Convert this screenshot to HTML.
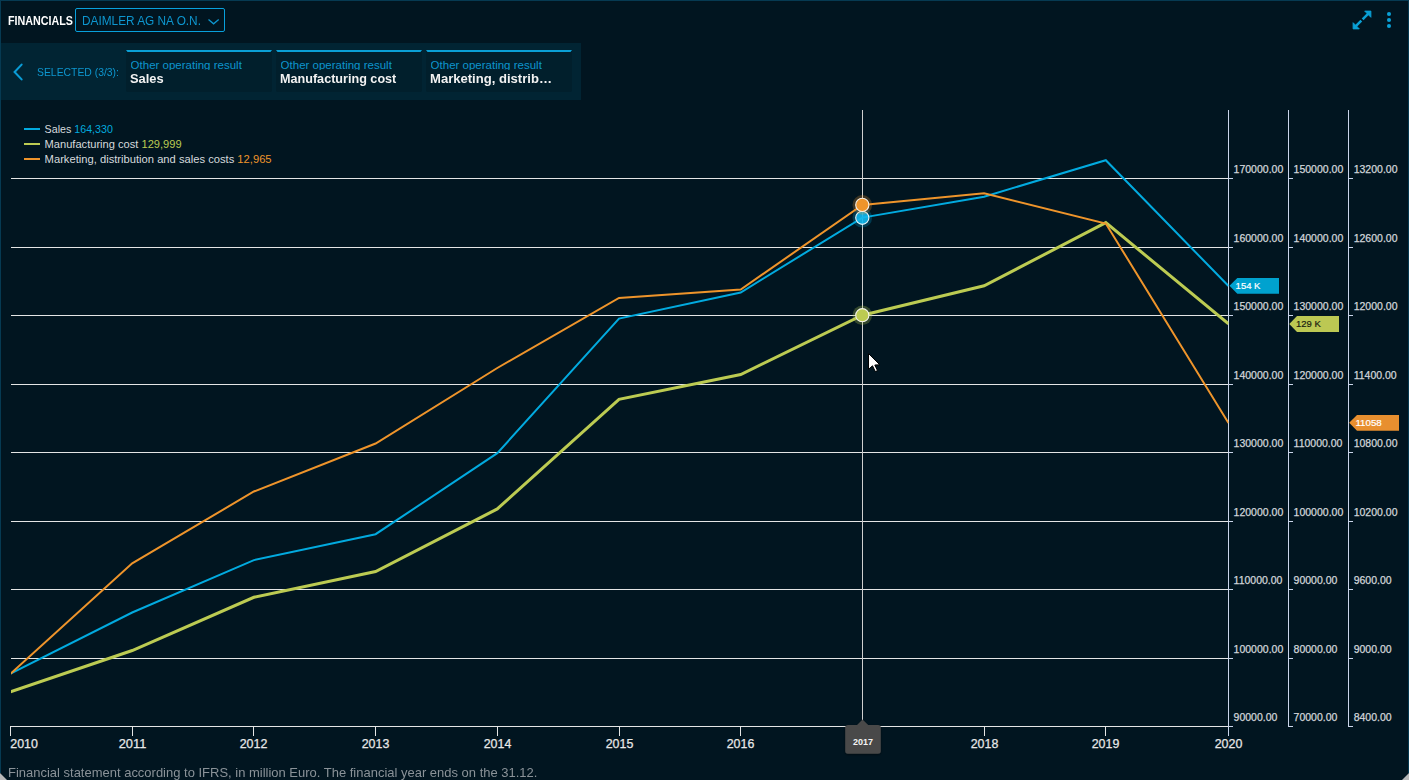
<!DOCTYPE html>
<html>
<head>
<meta charset="utf-8">
<style>
html,body{margin:0;padding:0;}
body{width:1409px;height:780px;overflow:hidden;background:#011520;font-family:"Liberation Sans",sans-serif;position:relative;}
.abs{position:absolute;}
.bt{left:0;top:0;width:1409px;height:1px;background:#063a52;}
.bl{left:0;top:0;width:1px;height:773px;background:#063a52;}
.br{left:1408px;top:0;width:1px;height:773px;background:#063a52;}
.t{position:absolute;white-space:nowrap;transform-origin:0 0;line-height:1;}
#band{left:1px;top:43px;width:580px;height:57px;background:#012433;}
.card{position:absolute;top:50px;width:146px;height:42px;background:#011f2c;border-radius:0 0 2px 2px;}
.card .ln{position:absolute;left:0;top:0;width:146px;height:2px;background:#0aa0d6;clip-path:polygon(0 0,100% 0,calc(100% - 1.5px) 100%,1.5px 100%);}
.card .a{left:4.6px;top:10px;font-size:11.5px;color:#0d95cc;height:10.2px;overflow:hidden;}
.card .b{left:4.3px;top:22.1px;font-size:13px;font-weight:700;color:#f2f2f2;}
</style>
</head>
<body>
<div class="abs bt"></div>
<div class="abs bl"></div>
<div class="abs br"></div>

<!-- title -->
<div class="t" style="left:7.6px;top:14.1px;font-size:13px;font-weight:700;color:#ffffff;transform:scaleX(0.826);">FINANCIALS</div>
<div class="abs" style="left:75px;top:8px;width:148px;height:22px;border:1px solid #08a0dc;border-radius:2px;"></div>
<div class="t" style="left:81.8px;top:15px;font-size:12.5px;color:#0d96cf;transform:scaleX(0.946);">DAIMLER AG NA O.N.</div>
<svg class="abs" style="left:205px;top:15px" width="18" height="12"><path d="M3.5 4.5 L8.6 8.8 L13.7 4.5" fill="none" stroke="#0d96cf" stroke-width="1.3"/></svg>

<!-- top right icons -->
<svg class="abs" style="left:1348px;top:6px" width="50" height="28" viewBox="1348 6 50 28">
  <g fill="#0aa0d6" stroke="#0aa0d6" stroke-width="0.9" stroke-linejoin="round">
    <path d="M1364.7 11.1 L1370.9 11.1 L1370.9 17.3 Z"/>
    <path d="M1353.1 22.7 L1353.1 28.9 L1359.3 28.9 Z"/>
  </g>
  <g stroke="#0aa0d6" stroke-width="2.5" stroke-linecap="butt">
    <line x1="1368.3" y1="13.7" x2="1362.6" y2="19.4"/>
    <line x1="1361.3" y1="20.7" x2="1355.6" y2="26.4"/>
  </g>
  <g fill="#0aa0d6">
    <circle cx="1389" cy="14" r="2.05"/>
    <circle cx="1389" cy="20" r="2.05"/>
    <circle cx="1389" cy="26" r="2.05"/>
  </g>
</svg>

<!-- selected band -->
<div class="abs" id="band"></div>
<svg class="abs" style="left:8px;top:58px" width="22" height="28"><path d="M13.6 6.6 L6.6 14 L13.6 21.4" fill="none" stroke="#0a9cd6" stroke-width="2.1" stroke-linecap="round"/></svg>
<div class="t" style="left:36.5px;top:66.7px;font-size:11px;color:#0d96cf;transform:scaleX(0.944);">SELECTED (3/3):</div>

<div class="card" style="left:126px"><div class="ln"></div>
  <div class="t a">Other operating result</div>
  <div class="t b" style="transform:scaleX(0.99)">Sales</div></div>
<div class="card" style="left:276px"><div class="ln"></div>
  <div class="t a">Other operating result</div>
  <div class="t b" style="transform:scaleX(0.97)">Manufacturing cost</div></div>
<div class="card" style="left:426px"><div class="ln"></div>
  <div class="t a">Other operating result</div>
  <div class="t b" style="transform:scaleX(1.005)">Marketing, distrib…</div></div>

<!-- CHART -->
<svg class="abs" style="left:0;top:0" width="1409" height="780" id="chart">
<defs><clipPath id="pc"><rect x="11" y="100" width="1217.5" height="640"/></clipPath></defs>
<rect x="11" y="178" width="1217" height="1" fill="#e4e5e5"/>
<rect x="11" y="247" width="1217" height="1" fill="#e4e5e5"/>
<rect x="11" y="315" width="1217" height="1" fill="#e4e5e5"/>
<rect x="11" y="384" width="1217" height="1" fill="#e4e5e5"/>
<rect x="11" y="452" width="1217" height="1" fill="#e4e5e5"/>
<rect x="11" y="521" width="1217" height="1" fill="#e4e5e5"/>
<rect x="11" y="589" width="1217" height="1" fill="#e4e5e5"/>
<rect x="11" y="658" width="1217" height="1" fill="#e4e5e5"/>
<rect x="10" y="726" width="1218" height="1" fill="#e4e5e5"/>
<rect x="10" y="726" width="1" height="10" fill="#e4e5e5"/>
<rect x="132" y="726" width="1" height="10" fill="#e4e5e5"/>
<rect x="253" y="726" width="1" height="10" fill="#e4e5e5"/>
<rect x="375" y="726" width="1" height="10" fill="#e4e5e5"/>
<rect x="497" y="726" width="1" height="10" fill="#e4e5e5"/>
<rect x="619" y="726" width="1" height="10" fill="#e4e5e5"/>
<rect x="740" y="726" width="1" height="10" fill="#e4e5e5"/>
<rect x="862" y="726" width="1" height="10" fill="#e4e5e5"/>
<rect x="984" y="726" width="1" height="10" fill="#e4e5e5"/>
<rect x="1105" y="726" width="1" height="10" fill="#e4e5e5"/>
<rect x="1228" y="110" width="1" height="626" fill="#cad5ea"/>
<rect x="1288" y="110" width="1" height="617" fill="#cad5ea"/>
<rect x="1348" y="110" width="1" height="617" fill="#cad5ea"/>
<rect x="1229" y="178" width="4" height="1" fill="#cad5ea"/>
<rect x="1289" y="178" width="4" height="1" fill="#cad5ea"/>
<rect x="1349" y="178" width="4" height="1" fill="#cad5ea"/>
<rect x="1229" y="247" width="4" height="1" fill="#cad5ea"/>
<rect x="1289" y="247" width="4" height="1" fill="#cad5ea"/>
<rect x="1349" y="247" width="4" height="1" fill="#cad5ea"/>
<rect x="1229" y="315" width="4" height="1" fill="#cad5ea"/>
<rect x="1289" y="315" width="4" height="1" fill="#cad5ea"/>
<rect x="1349" y="315" width="4" height="1" fill="#cad5ea"/>
<rect x="1229" y="384" width="4" height="1" fill="#cad5ea"/>
<rect x="1289" y="384" width="4" height="1" fill="#cad5ea"/>
<rect x="1349" y="384" width="4" height="1" fill="#cad5ea"/>
<rect x="1229" y="452" width="4" height="1" fill="#cad5ea"/>
<rect x="1289" y="452" width="4" height="1" fill="#cad5ea"/>
<rect x="1349" y="452" width="4" height="1" fill="#cad5ea"/>
<rect x="1229" y="521" width="4" height="1" fill="#cad5ea"/>
<rect x="1289" y="521" width="4" height="1" fill="#cad5ea"/>
<rect x="1349" y="521" width="4" height="1" fill="#cad5ea"/>
<rect x="1229" y="589" width="4" height="1" fill="#cad5ea"/>
<rect x="1289" y="589" width="4" height="1" fill="#cad5ea"/>
<rect x="1349" y="589" width="4" height="1" fill="#cad5ea"/>
<rect x="1229" y="658" width="4" height="1" fill="#cad5ea"/>
<rect x="1289" y="658" width="4" height="1" fill="#cad5ea"/>
<rect x="1349" y="658" width="4" height="1" fill="#cad5ea"/>
<rect x="1229" y="726" width="4" height="1" fill="#cad5ea"/>
<rect x="1289" y="726" width="4" height="1" fill="#cad5ea"/>
<rect x="1349" y="726" width="4" height="1" fill="#cad5ea"/>
<g font-family="Liberation Sans" font-size="10.5" fill="#d2d6da" stroke="#d2d6da" stroke-width="0.25">
<text x="1233.6" y="173">170000.00</text>
<text x="1293.6" y="173">150000.00</text>
<text x="1353.7" y="173">13200.00</text>
<text x="1233.6" y="242">160000.00</text>
<text x="1293.6" y="242">140000.00</text>
<text x="1353.7" y="242">12600.00</text>
<text x="1233.6" y="310">150000.00</text>
<text x="1293.6" y="310">130000.00</text>
<text x="1353.7" y="310">12000.00</text>
<text x="1233.6" y="379">140000.00</text>
<text x="1293.6" y="379">120000.00</text>
<text x="1353.7" y="379">11400.00</text>
<text x="1233.6" y="447">130000.00</text>
<text x="1293.6" y="447">110000.00</text>
<text x="1353.7" y="447">10800.00</text>
<text x="1233.6" y="516">120000.00</text>
<text x="1293.6" y="516">100000.00</text>
<text x="1353.7" y="516">10200.00</text>
<text x="1233.6" y="584">110000.00</text>
<text x="1293.6" y="584">90000.00</text>
<text x="1353.7" y="584">9600.00</text>
<text x="1233.6" y="653">100000.00</text>
<text x="1293.6" y="653">80000.00</text>
<text x="1353.7" y="653">9000.00</text>
<text x="1233.6" y="721">90000.00</text>
<text x="1293.6" y="721">70000.00</text>
<text x="1353.7" y="721">8400.00</text>
</g>
<g font-family="Liberation Sans" font-size="12.3" fill="#e8e8e8" stroke="#e8e8e8" stroke-width="0.25">
<text x="10.3" y="748" textLength="27.6" lengthAdjust="spacingAndGlyphs">2010</text>
<text x="118.7" y="748" textLength="27.6" lengthAdjust="spacingAndGlyphs">2011</text>
<text x="239.7" y="748" textLength="27.6" lengthAdjust="spacingAndGlyphs">2012</text>
<text x="361.7" y="748" textLength="27.6" lengthAdjust="spacingAndGlyphs">2013</text>
<text x="483.7" y="748" textLength="27.6" lengthAdjust="spacingAndGlyphs">2014</text>
<text x="605.7" y="748" textLength="27.6" lengthAdjust="spacingAndGlyphs">2015</text>
<text x="726.7" y="748" textLength="27.6" lengthAdjust="spacingAndGlyphs">2016</text>
<text x="970.7" y="748" textLength="27.6" lengthAdjust="spacingAndGlyphs">2018</text>
<text x="1091.7" y="748" textLength="27.6" lengthAdjust="spacingAndGlyphs">2019</text>
<text x="1214.7" y="748" textLength="27.6" lengthAdjust="spacingAndGlyphs">2020</text>
</g>
<rect x="862" y="110" width="1" height="611" fill="#cfcfcf"/>
<g clip-path="url(#pc)" fill="none" stroke-linejoin="miter">
<polyline points="10.5,691.8 132.2,650.5 253.9,597.3 375.6,571.5 497.3,508.9 619.0,399.4 740.7,374.5 862.4,315.2 984.1,285.8 1105.8,222.6 1228.5,323.9" stroke="#bccb52" stroke-width="3"/>
<polyline points="10.5,673.6 132.2,612.5 253.9,560.1 375.6,534.2 497.3,453.2 619.0,318.6 740.7,292.5 862.4,217.6 984.1,196.7 1105.8,160.2 1228.5,286" stroke="#02aadf" stroke-width="2"/>
<polyline points="10.5,673.8 132.2,563.3 253.9,491.5 375.6,443.5 497.3,368 619.0,298 740.7,289.5 862.4,204.9 984.1,193.3 1105.8,223.5 1228.5,423" stroke="#ee942b" stroke-width="2"/>
</g>
<circle cx="862.3" cy="315.2" r="9.8" fill="#bccb52" fill-opacity="0.28"/>
<circle cx="862.3" cy="315.2" r="6.6" fill="#bccb52" stroke="#f4f4ec" stroke-width="1.1"/>
<circle cx="862.3" cy="217.8" r="9.8" fill="#02aadf" fill-opacity="0.25"/>
<circle cx="862.3" cy="217.8" r="6.6" fill="#12b8ee" fill-opacity="0.88" stroke="#e8f4f8" stroke-width="1.1"/>
<circle cx="862.3" cy="204.9" r="9.8" fill="#ee942b" fill-opacity="0.25"/>
<circle cx="862.3" cy="204.9" r="6.6" fill="#ee942b" stroke="#f6efe6" stroke-width="1.1"/>
<path d="M1229.5 285.8 L1237.3 277.9 L1279 277.9 L1279 293.8 L1237.3 293.8 Z" fill="#00a2cf"/>
<text x="1235.6" y="289.2" font-family="Liberation Sans" font-size="9.5" fill="#ffffff" stroke="#ffffff" stroke-width="0.2">154 K</text>
<path d="M1289.3 324 L1297 316.1 L1339 316.1 L1339 332 L1297 332 Z" fill="#bcc853"/>
<text x="1296" y="327.3" font-family="Liberation Sans" font-size="9.5" fill="#1b1d10" stroke="#1b1d10" stroke-width="0.2">129 K</text>
<path d="M1349.2 422.8 L1357 415 L1399 415 L1399 430.8 L1357 430.8 Z" fill="#e88f2f"/>
<text x="1355.4" y="426.2" font-family="Liberation Sans" font-size="9.75" fill="#ffffff" stroke="#ffffff" stroke-width="0.2">11058</text>
<defs><filter id="sh" x="-30%" y="-30%" width="160%" height="160%"><feDropShadow dx="0" dy="1" stdDeviation="1.2" flood-color="#000" flood-opacity="0.5"/></filter></defs>
<g filter="url(#sh)"><path d="M857 725 L862.5 719.6 L868.2 725 L878 725 Q880.8 725 880.8 727.8 L880.8 751 Q880.8 753.8 878 753.8 L848 753.8 Q845.2 753.8 845.2 751 L845.2 727.8 Q845.2 725 848 725 Z" fill="#484848"/></g>
<text x="863" y="745" text-anchor="middle" font-family="Liberation Sans" font-size="9" font-weight="700" fill="#f4f4f4">2017</text>
<g>
<rect x="24" y="128" width="16" height="2" fill="#02aadf"/>
<text x="44.6" y="133" font-family="Liberation Sans" font-size="11" fill="#d6dadd" textLength="68.3" lengthAdjust="spacingAndGlyphs">Sales <tspan fill="#02aadf">164,330</tspan></text>
<rect x="24" y="143" width="16" height="2" fill="#bccb52"/>
<text x="44.6" y="148" font-family="Liberation Sans" font-size="11" fill="#d6dadd" textLength="137.0" lengthAdjust="spacingAndGlyphs">Manufacturing cost <tspan fill="#bccb52">129,999</tspan></text>
<rect x="24" y="158" width="16" height="2" fill="#ee942b"/>
<text x="44.6" y="163" font-family="Liberation Sans" font-size="11" fill="#d6dadd" textLength="227.0" lengthAdjust="spacingAndGlyphs">Marketing, distribution and sales costs <tspan fill="#ee942b">12,965</tspan></text>
</g>
<path d="M868.5 353.5 L868.5 369.3 L872.5 365.8 L875.3 371.6 L877.5 370.6 L874.8 365 L879.8 364.8 Z" fill="#ffffff" stroke="#000000" stroke-width="1" stroke-linejoin="miter"/>
</svg>

<!-- footer -->
<div class="t" style="left:7.6px;top:767px;font-size:12.9px;color:#8a9298;transform:scaleX(1.007);">Financial statement according to IFRS, in million Euro. The financial year ends on the 31.12.</div>
<svg class="abs" style="left:0;top:773px" width="8" height="7"><path d="M0 0 L7 7 L0 7 Z" fill="#b8b8b8"/></svg>
<svg class="abs" style="left:1401px;top:773px" width="8" height="7"><path d="M8 0 L8 7 L1 7 Z" fill="#b8b8b8"/></svg>
</body>
</html>
